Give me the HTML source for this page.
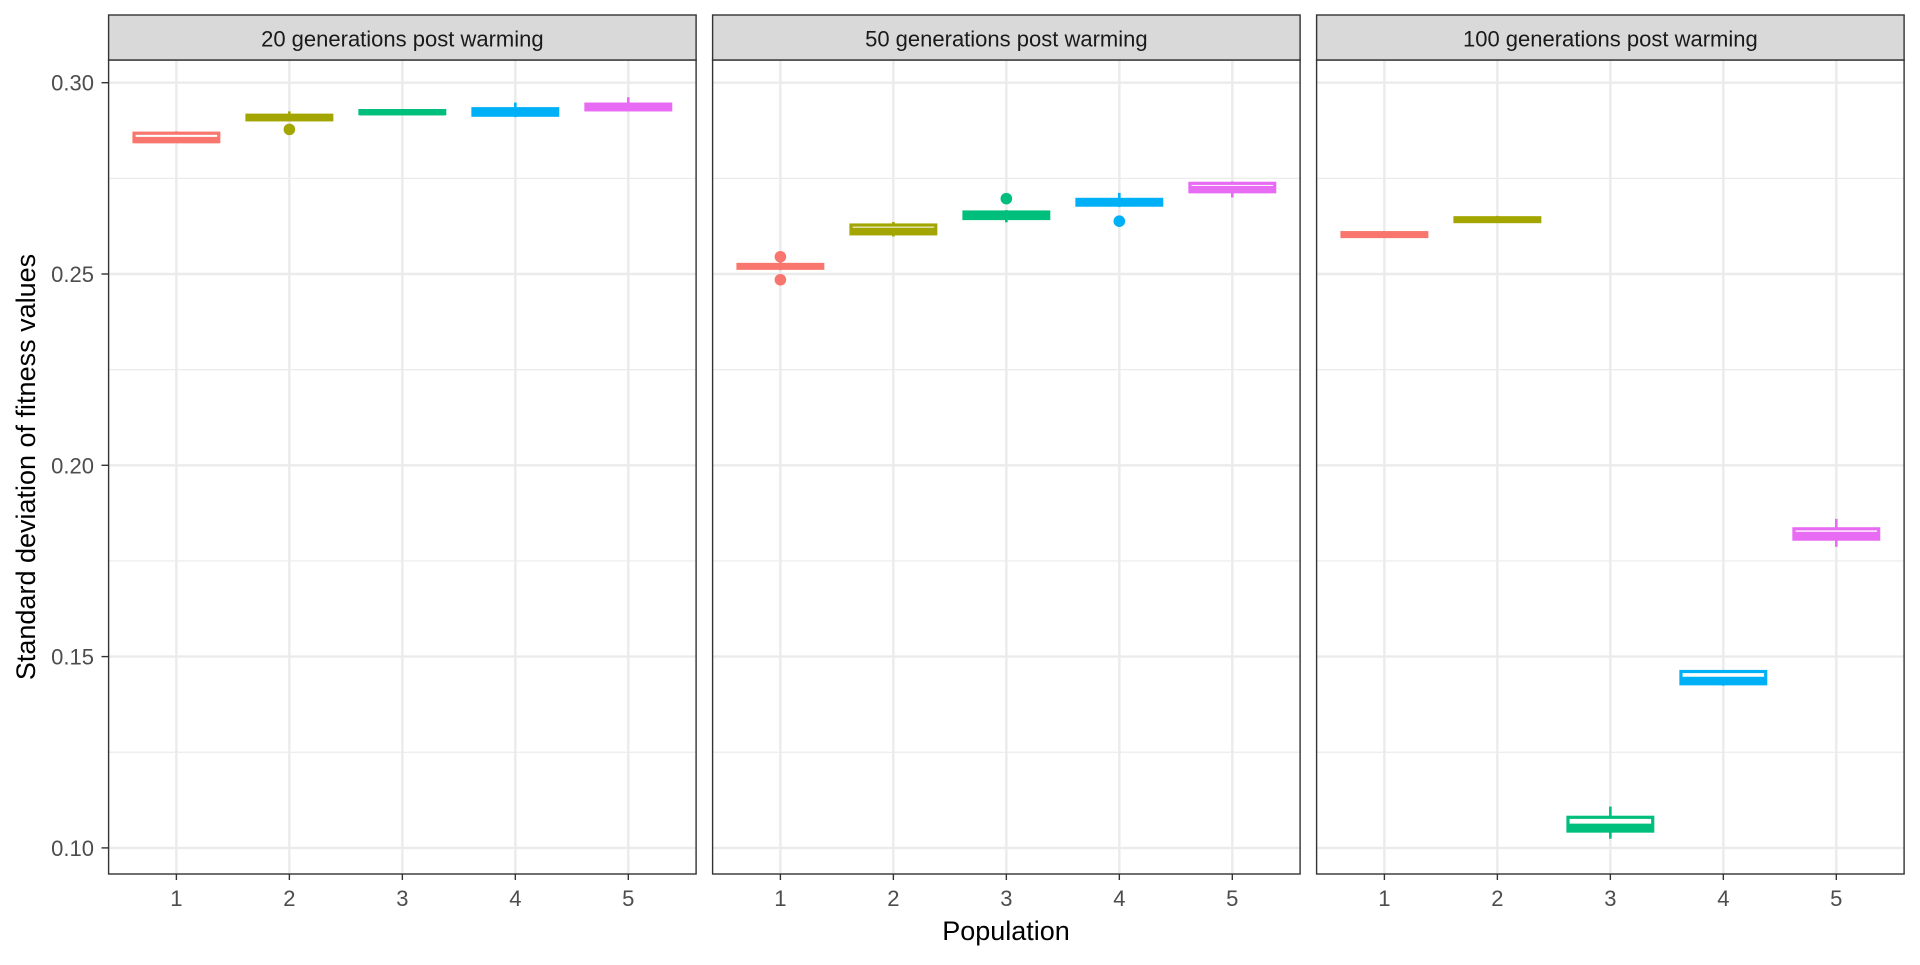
<!DOCTYPE html>
<html><head><meta charset="utf-8"><style>
body{margin:0;background:#fff;font-family:"Liberation Sans",sans-serif;}
</style></head><body>
<svg id="chart" width="1920" height="960" xmlns="http://www.w3.org/2000/svg"></svg>
<script>
const panelTitles=["20 generations post warming","50 generations post warming","100 generations post warming"];
const categories=["1","2","3","4","5"];
const yTicks=[0.10,0.15,0.20,0.25,0.30];
const yTickLabels=["0.10","0.15","0.20","0.25","0.30"];
const colors=["#F8766D","#A3A500","#00BF7D","#00B0F6","#E76BF3"];
// per panel, per population: [lowWhisker, q1, median, q3, highWhisker]
const panel20=[[0.2843,0.2846,0.2850,0.2868,0.2873],[0.2900,0.2903,0.2908,0.2915,0.2925],[0.2918,0.2919,0.2923,0.2927,0.2928],[0.2910,0.2915,0.2922,0.2932,0.2948],[0.2925,0.2929,0.2937,0.2944,0.2962]];
const panel50=[[0.2510,0.2515,0.2520,0.2525,0.2530],[0.2598,0.2605,0.2613,0.2628,0.2636],[0.2635,0.2645,0.2655,0.2662,0.2667],[0.2675,0.2680,0.2688,0.2695,0.2712],[0.2700,0.2715,0.2722,0.2737,0.2742]];
const panel100=[[0.2595,0.2598,0.2603,0.2608,0.2612],[0.2635,0.2637,0.2642,0.2647,0.2652],[0.1024,0.1044,0.1055,0.1080,0.1108],[0.1424,0.1429,0.1439,0.1461,0.1464],[0.1787,0.1807,0.1818,0.1834,0.1860]];
const outliers20=[[],[0.2878],[],[],[]];
const outliers50=[[0.2545,0.2485],[],[0.2697],[0.2638],[]];
const outliers100=[[],[],[],[],[]];
const panels=[panel20,panel50,panel100];
const outs=[outliers20,outliers50,outliers100];

const NS="http://www.w3.org/2000/svg";
const svgEl=document.getElementById('chart');
function mk(tag,attrs,parent){const e=document.createElementNS(NS,tag);for(const k in attrs)e.setAttribute(k,attrs[k]);(parent||svgEl).appendChild(e);return e;}
const panelLeft=[108.6,712.6,1316.6], panelW=587.5;
const plotTop=60, plotBottom=874, stripTop=15;
function yScale(v){return 82.7+(0.30-v)*3826;}
function xScale(p,i){return panelLeft[p]+panelW*(i+0.6)/5.2;}

for(let p=0;p<3;p++){
  const L=panelLeft[p],R=L+panelW;
  const g=mk('g',{});
  
  
  for(let k=0;k<4;k++){const v=0.125+k*0.05;const y=yScale(v);
    const l=mk('line',{x1:L,x2:R,y1:y,y2:y,stroke:'#EBEBEB','stroke-width':1.2},g);
    }
  yTicks.forEach(v=>{const y=yScale(v);
    const l=mk('line',{x1:L,x2:R,y1:y,y2:y,stroke:'#EBEBEB','stroke-width':2.4},g);
    });
  categories.forEach((c,i)=>{const x=xScale(p,i);
    const l=mk('line',{x1:x,x2:x,y1:plotTop,y2:plotBottom,stroke:'#EBEBEB','stroke-width':2.4},g);
    });
  panels[p].forEach((d,i)=>{
    const x=xScale(p,i),hw=panelW/5.2*0.375,col=colors[i];
    const bg=mk('g',{},g);
    
    mk('line',{x1:x,x2:x,y1:yScale(d[0]),y2:yScale(d[4]),stroke:col,'stroke-width':2.6},bg);
    mk('rect',{x:x-hw,y:yScale(d[3]),width:2*hw,height:Math.max(0.5,yScale(d[1])-yScale(d[3])),fill:'#fff',stroke:col,'stroke-width':3.2},bg);
    mk('line',{x1:x-hw,x2:x+hw,y1:yScale(d[2]),y2:yScale(d[2]),stroke:col,'stroke-width':6.4},bg);
    outs[p][i].forEach(o=>{const c=mk('circle',{cx:x,cy:yScale(o),r:5.8,fill:col},bg);
      });
  });
  const br=mk('rect',{x:L,y:plotTop,width:panelW,height:plotBottom-plotTop,fill:'none',stroke:'#333','stroke-width':1.4},g);
  
  const st=mk('rect',{x:L,y:stripTop,width:panelW,height:plotTop-stripTop,fill:'#D9D9D9',stroke:'#333','stroke-width':1.4},g);
  
  const tt=mk('text',{x:(L+R)/2,y:46.5,'text-anchor':'middle','font-size':22,fill:'#1A1A1A'},g);
  tt.textContent=panelTitles[p];
  
  categories.forEach((c,i)=>{const x=xScale(p,i);
    mk('line',{x1:x,x2:x,y1:plotBottom,y2:plotBottom+6,stroke:'#333','stroke-width':1.4},g);
    const t=mk('text',{x:x,y:906,'text-anchor':'middle','font-size':22,fill:'#4D4D4D'},g);
    t.textContent=c;});
}
yTicks.forEach((v,k)=>{const y=yScale(v);
  mk('line',{x1:101.5,x2:108.6,y1:y,y2:y,stroke:'#333','stroke-width':1.4});
  const t=mk('text',{x:94,y:y+8,'text-anchor':'end','font-size':22,fill:'#4D4D4D'});
  t.textContent=yTickLabels[k];});
const xt=mk('text',{x:1006,y:940,'text-anchor':'middle','font-size':27,fill:'#000'});
xt.textContent='Population';
const yt=mk('text',{x:0,y:0,'text-anchor':'middle','font-size':27,fill:'#000',transform:'translate(35,467) rotate(-90)'});
yt.textContent='Standard deviation of fitness values';
</script>
</body></html>
